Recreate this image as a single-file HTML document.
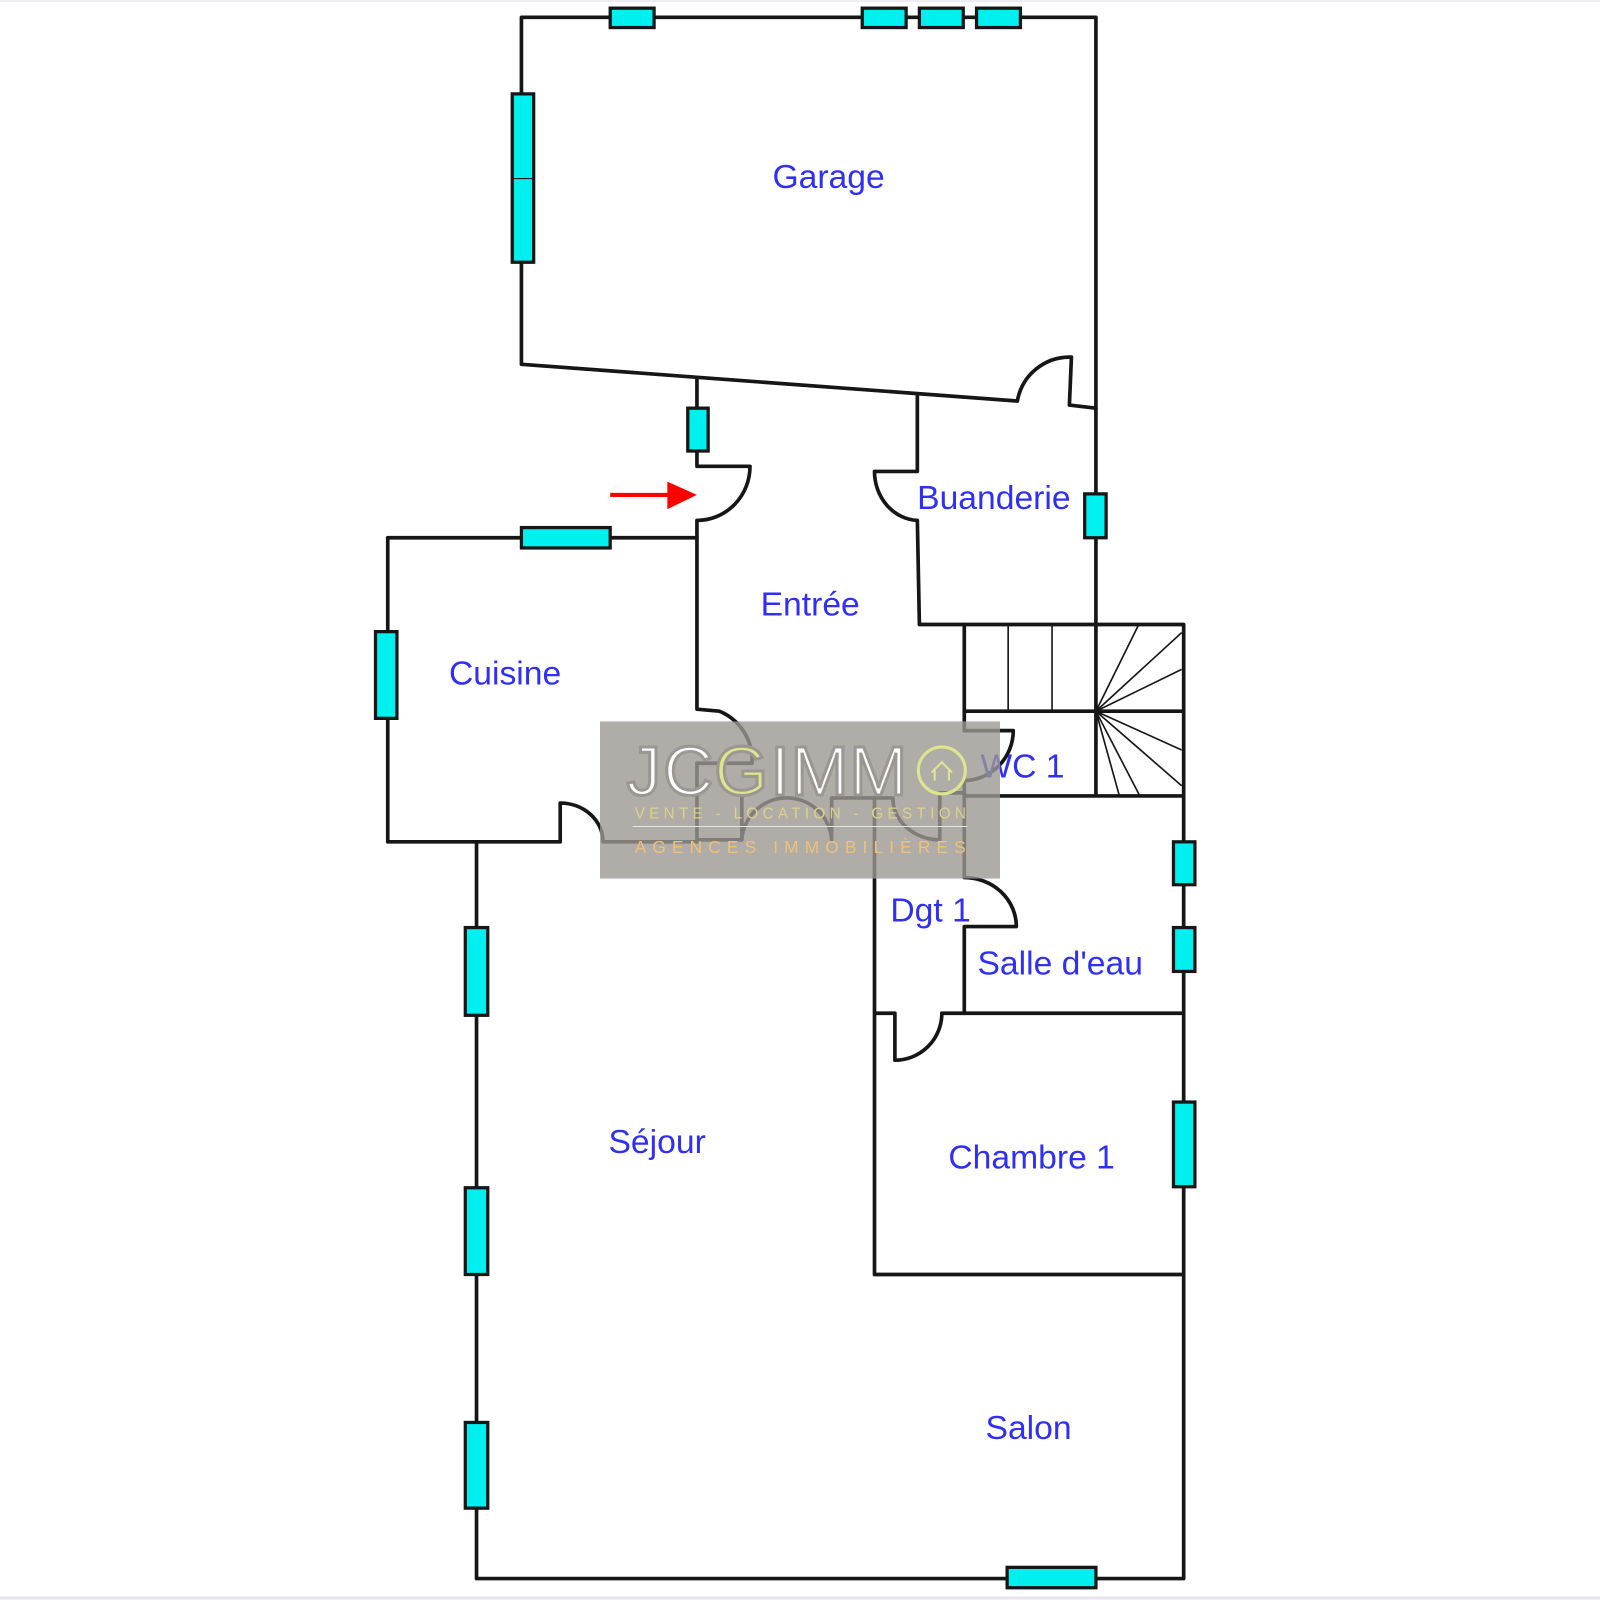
<!DOCTYPE html>
<html><head><meta charset="utf-8"><style>
html,body{margin:0;padding:0;background:#fff;}
svg{display:block;}
.w{fill:none;stroke:#161616;stroke-width:3.6;stroke-linejoin:round;stroke-linecap:round;}
.t{stroke:#161616;stroke-width:1.6;}
.win{fill:#00f0f0;stroke:#161616;stroke-width:3.2;}
.lb{font-family:"Liberation Sans",sans-serif;font-size:33px;fill:#2f2ff5;text-anchor:middle;}
</style></head><body>
<svg width="1600" height="1600" viewBox="0 0 1568 1568" xmlns="http://www.w3.org/2000/svg">
<rect width="1568" height="1568" fill="#fff"/>
<line x1="0" y1="1" x2="1568" y2="1" stroke="#eeeef2" stroke-width="2"/>
<line x1="0" y1="1566" x2="1568" y2="1566" stroke="#e6e6ee" stroke-width="3"/>
<path class="w" d="M511,357 V17 H1074 V400 L1048,397 L1050,350 A52,52 0 0 0 997,393 L511,357"/>
<path class="w" d="M683,370 V457 H735 A52,53 0 0 1 683,510 V695 L705,697 A52,52 0 0 1 737,748 H683 V823 H727 V777"/>
<path class="w" d="M683,527 H380 V825 H549 V787 A42,38 0 0 1 591,825 H683"/>
<path class="w" d="M727,823 A44,44 0 0 1 771,782 A44,44 0 0 1 815,823 V782 H875 A46,41 0 0 0 921,823 V777 H945"/>
<path class="w" d="M899,388 V462 H857 A44,48 0 0 0 899,510 L901,612 H1160 V1547 H467 V825"/>
<line class="w" x1="1074" y1="400" x2="1074" y2="612"/>
<path class="w" d="M945,612 V697 H1160 M945,780 H1160 M1074,612 V780"/>
<path class="t" d="M988,612 V697 M1031,612 V697 M1074,697 L1116,612 M1074,697 L1158,620 M1074,697 L1158,656 M1074,697 L1158,735 M1074,697 L1158,770 M1074,697 L1117,780 M1074,697 L1097,780"/>
<path class="w" d="M945,697 V716 H993 A49,49 0 0 1 945,765 V860 A51,48 0 0 1 996,908 H945 V993 H1160"/>
<path class="w" d="M857,782 V1249 H1160 M857,993 H877 V1039 A46,46 0 0 0 923,993 H945"/>
<rect class="win" x="598" y="8" width="43" height="19"/>
<rect class="win" x="845" y="8" width="43" height="19"/>
<rect class="win" x="901" y="8" width="43" height="19"/>
<rect class="win" x="957" y="8" width="43" height="19"/>
<rect class="win" x="502" y="92" width="21" height="165"/>
<line x1="502" y1="175" x2="523" y2="175" stroke="#161616" stroke-width="1"/>
<rect class="win" x="674" y="400" width="20" height="42"/>
<rect class="win" x="511" y="517" width="87" height="20"/>
<rect class="win" x="368" y="619" width="21" height="85"/>
<rect class="win" x="1063" y="484" width="21" height="43"/>
<rect class="win" x="1150" y="825" width="21" height="42"/>
<rect class="win" x="1150" y="909" width="21" height="43"/>
<rect class="win" x="1150" y="1080" width="21" height="83"/>
<rect class="win" x="456" y="909" width="22" height="86"/>
<rect class="win" x="456" y="1164" width="22" height="85"/>
<rect class="win" x="456" y="1394" width="22" height="84"/>
<rect class="win" x="987" y="1536" width="87" height="20"/>
<line x1="598" y1="485" x2="660" y2="485" stroke="#f00" stroke-width="4"/>
<polygon points="654,472 683,485 654,499" fill="#f00"/>
<text class="lb" x="812" y="184">Garage</text>
<text class="lb" x="974" y="499">Buanderie</text>
<text class="lb" x="794" y="603">Entrée</text>
<text class="lb" x="495" y="671">Cuisine</text>
<text class="lb" x="1002" y="762">WC 1</text>
<text class="lb" x="912" y="903">Dgt 1</text>
<text class="lb" x="1039" y="955">Salle d'eau</text>
<text class="lb" x="644" y="1130">Séjour</text>
<text class="lb" x="1011" y="1145">Chambre 1</text>
<text class="lb" x="1008" y="1410">Salon</text>
<rect x="588" y="707" width="392" height="154" fill="#9c9792" opacity="0.8"/>
<g font-family="Liberation Sans,sans-serif" font-weight="normal">
<text x="614" y="779" font-size="68" fill="#fff" style="letter-spacing:2px" stroke="#9c9792" stroke-width="3">JC</text>
<text x="700" y="779" font-size="68" fill="#dde58f" stroke="#9c9792" stroke-width="3">G</text>
<text x="755" y="779" font-size="68" fill="#fff" stroke="#9c9792" stroke-width="3" style="letter-spacing:1px">IMM</text>
<circle cx="923" cy="755" r="23" fill="none" stroke="#dde58f" stroke-width="3"/>
<path d="M913,757 L923,747 L933,757 M916,755 V765 M930,755 V765" fill="none" stroke="#dde58f" stroke-width="2"/>
<text x="622" y="802" font-size="15" fill="#d7d48a" style="letter-spacing:4.2px">VENTE - LOCATION - GESTION</text>
<line x1="620" y1="810" x2="948" y2="810" stroke="#e8e6e2" stroke-width="1"/>
<text x="622" y="836" font-size="17" fill="#f0c078" style="letter-spacing:6px">AGENCES IMMOBILIÈRES</text>
</g>
</svg>
</body></html>
